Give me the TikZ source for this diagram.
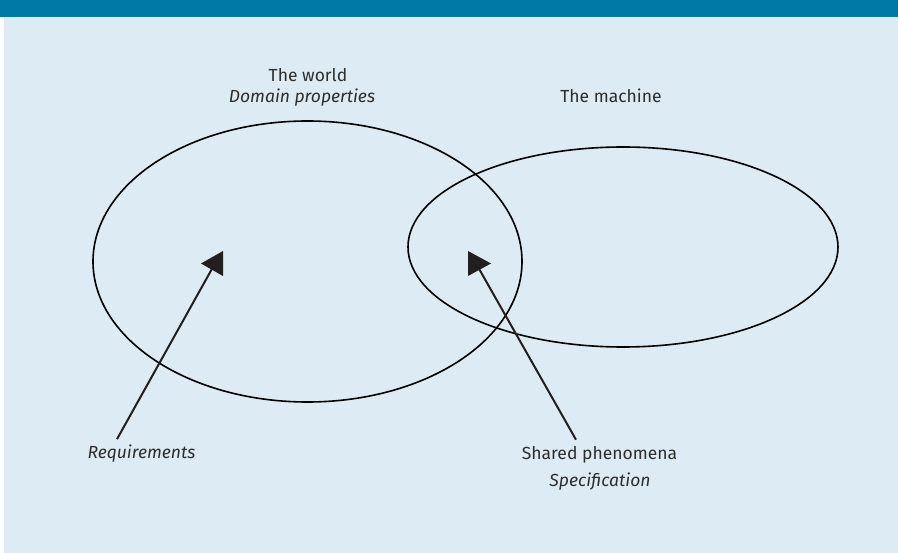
\documentclass[tikz,border=0pt]{standalone}
\usepackage{fontspec}
\setmainfont{Fira Sans}
\usetikzlibrary{shapes.geometric}
\definecolor{barblue}{RGB}{0,121,166}
\definecolor{paleblue}{RGB}{221,235,244}
\definecolor{inkgrey}{RGB}{45,45,45}
\definecolor{arrowink}{RGB}{35,31,32}
\tikzset{region/.style={draw,ellipse,line width=1.6pt,inner sep=0pt,outer sep=0pt},
         lbl/.style={text=inkgrey,font=\fontsize{17.5}{21}\selectfont,inner sep=0pt,anchor=base},
         pointer/.style={draw=arrowink,line width=2pt},
         tiphead/.style={fill=arrowink},
        }

\begin{document}
\begin{tikzpicture}[x=1pt,y=-1pt]
        \fill[white](0,0)rectangle(898,553);
        \fill[paleblue](4,0)rectangle(898,553);
        \fill[barblue](0,0)rectangle(898,17);
        \useasboundingbox(0,0)rectangle(898,553);
        \node[region,minimum width=429pt,minimum height=281pt](world)at(307.5,261.5){};
        \node[region,minimum width=430pt,minimum height=200pt](machine)at(623,247){};
        \node[lbl](worldname)at(308,82){The world};
        \node[lbl](domain)at(302,103){\itshape Domain properties};
        \node[lbl](machinename)at(611,103){The machine};
        \node[lbl](req)at(141.5,459){\itshape Requirements};
        \node[lbl](shared)at(599.5,460){Shared phenomena};
        \node[lbl](spec)at(600,487){\itshape Specification};
        \coordinate(reqtip)at(213,267);
        \coordinate(sharedtip)at(478,267);
        \draw[pointer]([xshift=-24.5pt,yshift=6pt]req.north)--(reqtip);
        \draw[pointer]([xshift=-23.5pt,yshift=7pt]shared.north)--(sharedtip);
        \fill[tiphead](223,251)--(201,263.5)--(223,276)--cycle;
        \fill[tiphead](468,251)--(491,263.5)--(468,276)--cycle;
    \end{tikzpicture}
\end{document}
